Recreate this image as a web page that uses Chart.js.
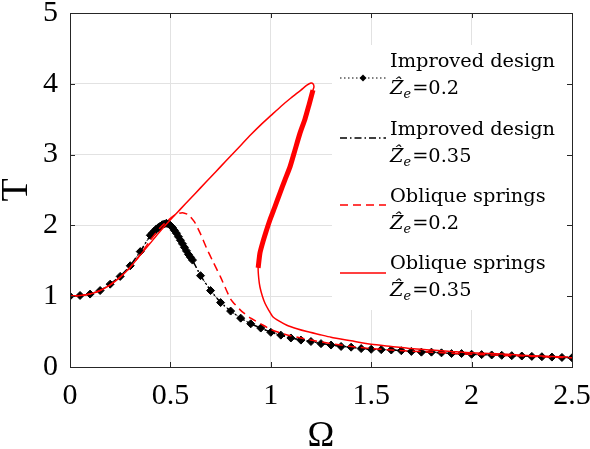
<!DOCTYPE html>
<html>
<head>
<meta charset="utf-8">
<script src="https://cdn.jsdelivr.net/npm/chart.js@4.4.1/dist/chart.umd.min.js"></script>
<style>
  html, body { margin: 0; padding: 0; background: #fff; }
</style>
</head>
<body>
<canvas id="tChart" width="590" height="449"></canvas>
<script>
// tick values
const xTicks = [0, 0.5, 1, 1.5, 2, 2.5];
const yTicks = [0, 1, 2, 3, 4, 5];

// Improved design, Ze = 0.2 (dotted + diamonds)
const imp02Omega = [0, 0.05, 0.10, 0.15, 0.20, 0.25, 0.30, 0.35, 0.40, 0.41, 0.42, 0.43, 0.44, 0.45, 0.46, 0.47, 0.48, 0.49, 0.50, 0.51, 0.52, 0.53, 0.54, 0.55, 0.56, 0.57, 0.58, 0.59, 0.60, 0.61, 0.65, 0.70, 0.75, 0.80, 0.85, 0.90, 0.95, 1.00, 1.05, 1.10, 1.15, 1.20, 1.25, 1.30, 1.35, 1.40, 1.45, 1.50, 1.55, 1.60, 1.65, 1.70, 1.75, 1.80, 1.85, 1.90, 1.95, 2.00, 2.05, 2.10, 2.15, 2.20, 2.25, 2.30, 2.35, 2.40, 2.45, 2.50];
const imp02T = [1.00, 1.01, 1.03, 1.08, 1.17, 1.28, 1.43, 1.63, 1.86, 1.89, 1.92, 1.95, 1.97, 1.99, 2.01, 2.02, 2.03, 2.02, 2.00, 1.97, 1.93, 1.89, 1.84, 1.79, 1.74, 1.69, 1.64, 1.59, 1.55, 1.51, 1.29, 1.08, 0.91, 0.79, 0.69, 0.61, 0.55, 0.49, 0.45, 0.41, 0.38, 0.36, 0.33, 0.31, 0.29, 0.28, 0.26, 0.25, 0.245, 0.24, 0.23, 0.22, 0.21, 0.21, 0.20, 0.19, 0.19, 0.18, 0.175, 0.17, 0.165, 0.16, 0.155, 0.15, 0.145, 0.14, 0.135, 0.13];

// Improved design, Ze = 0.35 (dash-dot)
const imp035Omega = [0, 0.05, 0.10, 0.15, 0.20, 0.25, 0.30, 0.35, 0.40, 0.44, 0.47, 0.49, 0.51, 0.54, 0.57, 0.61, 0.65, 0.70, 0.75, 0.80, 0.85, 0.90, 0.95, 1.00, 1.10, 1.20, 1.30, 1.40, 1.50, 1.60, 1.70, 1.80, 1.90, 2.00, 2.10, 2.20, 2.30, 2.40, 2.50];
const imp035T = [1.00, 1.01, 1.03, 1.08, 1.17, 1.28, 1.43, 1.63, 1.86, 1.97, 2.02, 2.02, 1.97, 1.84, 1.69, 1.51, 1.29, 1.08, 0.91, 0.79, 0.69, 0.61, 0.55, 0.49, 0.41, 0.36, 0.31, 0.28, 0.25, 0.24, 0.22, 0.21, 0.19, 0.18, 0.17, 0.16, 0.15, 0.14, 0.13];

// Oblique springs, Ze = 0.2 (dashed)
const obl02Omega = [0, 0.05, 0.10, 0.15, 0.20, 0.25, 0.30, 0.35, 0.40, 0.45, 0.50, 0.53, 0.56, 0.59, 0.62, 0.65, 0.68, 0.71, 0.75, 0.80, 0.85, 0.90, 0.95, 1.00, 1.05, 1.10, 1.20, 1.30, 1.40, 1.50, 1.60, 1.80, 2.00, 2.20, 2.40, 2.50];
const obl02T = [1.00, 1.01, 1.03, 1.08, 1.16, 1.27, 1.41, 1.59, 1.79, 1.97, 2.10, 2.16, 2.18, 2.15, 2.05, 1.88, 1.68, 1.50, 1.27, 0.96, 0.80, 0.69, 0.61, 0.53, 0.48, 0.44, 0.38, 0.33, 0.29, 0.26, 0.24, 0.21, 0.18, 0.16, 0.14, 0.13];

// Oblique springs, Ze = 0.35 (solid, folds back)
const obl035Omega = [0, 0.05, 0.10, 0.15, 0.20, 0.25, 0.30, 0.35, 0.40, 0.45, 0.50, 0.55, 0.60, 0.65, 0.70, 0.75, 0.80, 0.85, 0.90, 0.95, 1.00, 1.05, 1.10, 1.15, 1.18, 1.20, 1.21, 1.215, 1.21, 1.19, 1.17, 1.145, 1.12, 1.096, 1.07, 1.046, 1.02, 0.996, 0.975, 0.96, 0.946, 0.937, 0.94, 0.946, 0.957, 0.971, 0.99, 1.01, 1.04, 1.08, 1.13, 1.18, 1.24, 1.30, 1.40, 1.50, 1.60, 1.70, 1.80, 1.90, 2.00, 2.10, 2.20, 2.30, 2.40, 2.48];
const obl035T = [1.00, 1.01, 1.03, 1.08, 1.16, 1.27, 1.41, 1.58, 1.75, 1.92, 2.08, 2.23, 2.38, 2.53, 2.68, 2.83, 2.98, 3.13, 3.28, 3.42, 3.55, 3.68, 3.80, 3.91, 3.98, 4.01, 4.00, 3.96, 3.91, 3.70, 3.50, 3.30, 3.06, 2.83, 2.64, 2.46, 2.26, 2.08, 1.90, 1.76, 1.61, 1.40, 1.25, 1.13, 1.01, 0.90, 0.80, 0.71, 0.65, 0.59, 0.54, 0.50, 0.46, 0.42, 0.37, 0.32, 0.29, 0.26, 0.24, 0.22, 0.20, 0.19, 0.175, 0.16, 0.15, 0.14];

// thick (unstable) part of the Ze = 0.35 oblique curve
const obl035ThickOmega = [1.21, 1.19, 1.17, 1.145, 1.12, 1.096, 1.07, 1.046, 1.02, 0.996, 0.975, 0.96, 0.946, 0.937];
const obl035ThickT = [3.91, 3.70, 3.50, 3.30, 3.06, 2.83, 2.64, 2.46, 2.26, 2.08, 1.90, 1.76, 1.61, 1.40];

const legendNames = ['Improved design', 'Improved design', 'Oblique springs', 'Oblique springs'];
const legendZe = ['0.2', '0.35', '0.2', '0.35'];

const pts = (xs, ys) => xs.map((x, i) => ({ x, y: ys[i] }));

const RED = '#ff0000';
const AXIS = '#262626';
const SERIF = "'Liberation Serif', serif";
const LEG_FONT = "'DejaVu Serif', serif";

// legend drawn inside the axes, like the matlab one
const insideLegend = {
  id: 'insideLegend',
  afterDraw(chart) {
    const { ctx, chartArea } = chart;
    ctx.save();
    ctx.fillStyle = '#fff';
    ctx.fillRect(332, 45, chartArea.right - 332, 265);

    const sampleY = [78, 138, 205, 273];
    const baseY = [67, 135, 202, 269];
    ctx.font = '18px ' + LEG_FONT;
    const sx = 165 / ctx.measureText('Improved design').width;

    legendNames.forEach((name, i) => {
      const ds = chart.data.datasets[i];
      ctx.strokeStyle = ds.borderColor;
      ctx.lineWidth = ds.borderWidth;
      ctx.setLineDash(ds.borderDash || []);
      ctx.beginPath();
      ctx.moveTo(340, sampleY[i]);
      ctx.lineTo(386, sampleY[i]);
      ctx.stroke();
      ctx.setLineDash([]);
      if (ds.pointRadius > 0) {
        const r = 3.5;
        ctx.fillStyle = ds.pointBackgroundColor;
        ctx.beginPath();
        ctx.moveTo(363, sampleY[i] - r);
        ctx.lineTo(363 + r, sampleY[i]);
        ctx.lineTo(363, sampleY[i] + r);
        ctx.lineTo(363 - r, sampleY[i]);
        ctx.closePath();
        ctx.fill();
      }

      ctx.save();
      ctx.translate(390, 0);
      ctx.scale(sx, 1);
      ctx.fillStyle = '#000';
      ctx.textBaseline = 'alphabetic';
      ctx.textAlign = 'left';
      ctx.font = '18px ' + LEG_FONT;
      ctx.fillText(name, 0, baseY[i]);
      // second line: Ẑ_e=value
      const y2 = baseY[i] + 27;
      let x = 0;
      ctx.font = 'italic 18px ' + LEG_FONT;
      ctx.fillText('Ẑ', x, y2);
      x += ctx.measureText('Ẑ').width;
      ctx.font = 'italic 12px ' + LEG_FONT;
      ctx.fillText('e', x, y2 + 4);
      x += ctx.measureText('e').width + 1;
      ctx.font = '18px ' + LEG_FONT;
      ctx.fillText('=' + legendZe[i], x, y2);
      ctx.restore();
    });
    ctx.restore();
  }
};

// box around the axes with inward ticks on all sides
const axesBox = {
  id: 'axesBox',
  afterDraw(chart) {
    const { ctx, chartArea: a, scales } = chart;
    ctx.save();
    ctx.strokeStyle = AXIS;
    ctx.lineWidth = 1;
    ctx.strokeRect(a.left + 0.5, a.top + 0.5, a.right - a.left, a.bottom - a.top);
    ctx.beginPath();
    xTicks.forEach(v => {
      const px = Math.round(scales.x.getPixelForValue(v)) + 0.5;
      ctx.moveTo(px, a.bottom); ctx.lineTo(px, a.bottom - 5);
      ctx.moveTo(px, a.top); ctx.lineTo(px, a.top + 5);
    });
    yTicks.forEach(v => {
      const py = Math.round(scales.y.getPixelForValue(v)) + 0.5;
      ctx.moveTo(a.left, py); ctx.lineTo(a.left + 5, py);
      ctx.moveTo(a.right, py); ctx.lineTo(a.right - 5, py);
    });
    ctx.stroke();
    ctx.restore();
  }
};

const ctx = document.getElementById('tChart');
new Chart(ctx, {
  type: 'scatter',
  data: {
    datasets: [
      {
        label: 'Improved design Ze=0.2',
        data: pts(imp02Omega, imp02T),
        showLine: true,
        borderColor: '#000',
        borderWidth: 1,
        borderDash: [1.5, 2.5],
        pointStyle: 'rectRot',
        pointRadius: 4,
        pointBackgroundColor: '#000',
        pointBorderColor: '#000',
        pointBorderWidth: 1,
        order: 4,
      },
      {
        label: 'Improved design Ze=0.35',
        data: pts(imp035Omega, imp035T),
        showLine: true,
        borderColor: '#000',
        borderWidth: 1.5,
        borderDash: [7, 3, 1.5, 3],
        pointRadius: 0,
        order: 3,
      },
      {
        label: 'Oblique springs Ze=0.2',
        data: pts(obl02Omega, obl02T),
        showLine: true,
        borderColor: RED,
        borderWidth: 1.5,
        borderDash: [8, 5],
        pointRadius: 0,
        tension: 0.2,
        order: 2,
      },
      {
        label: 'Oblique springs Ze=0.35',
        data: pts(obl035Omega, obl035T),
        showLine: true,
        borderColor: RED,
        borderWidth: 1.5,
        pointRadius: 0,
        tension: 0.2,
        order: 1,
      },
      {
        label: 'unstable',
        data: pts(obl035ThickOmega, obl035ThickT),
        showLine: true,
        borderColor: RED,
        borderWidth: 5,
        pointRadius: 0,
        tension: 0.2,
        order: 0,
      },
    ],
  },
  options: {
    responsive: false,
    animation: false,
    devicePixelRatio: 1,
    layout: { padding: { top: 13, right: 18, left: 0, bottom: 0 } },
    plugins: {
      legend: { display: false },
      tooltip: { enabled: false },
    },
    scales: {
      x: {
        type: 'linear',
        min: 0,
        max: 2.5,
        afterBuildTicks: s => { s.ticks = xTicks.map(v => ({ value: v })); },
        afterFit: s => { s.height = 82; s.paddingLeft = 0; s.paddingRight = 0; },
        grid: { color: '#e2e2e2', drawTicks: false },
        border: { display: false },
        ticks: {
          color: '#000', padding: 11, maxRotation: 0,
          font: { family: SERIF, size: 30 },
          callback: v => String(v),
        },
        title: {
          display: true, text: 'Ω', color: '#000',
          font: { family: SERIF, size: 36, lineHeight: 0.7 }, padding: 0,
        },
      },
      y: {
        type: 'linear',
        min: 0,
        max: 5,
        afterBuildTicks: s => { s.ticks = yTicks.map(v => ({ value: v })); },
        afterFit: s => { s.width = 70; s.paddingTop = 0; s.paddingBottom = 0; },
        grid: { color: '#e2e2e2', drawTicks: false },
        border: { display: false },
        ticks: {
          color: '#000', padding: 12,
          font: { family: SERIF, size: 30 },
          callback: v => String(v),
        },
        title: {
          display: true, text: 'T', color: '#000',
          font: { family: SERIF, size: 38, lineHeight: 0.9 }, padding: 0,
        },
      },
    },
  },
  plugins: [insideLegend, axesBox],
});
</script>
</body>
</html>
